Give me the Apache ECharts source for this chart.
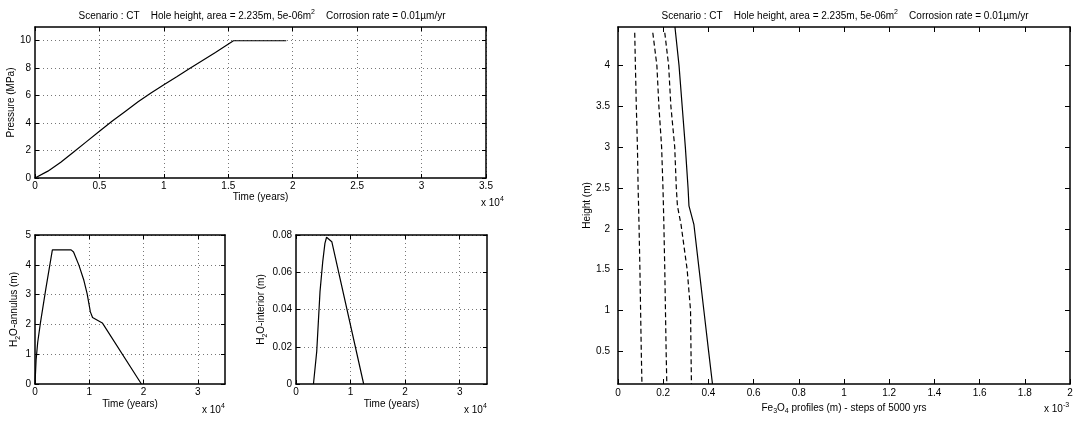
<!DOCTYPE html>
<html>
<head>
<meta charset="utf-8">
<script src="https://cdn.jsdelivr.net/npm/echarts@6/dist/echarts.min.js"></script>
<style>html,body{margin:0;padding:0;background:#fff}#c{width:1076px;height:421px}</style>
</head>
<body>
<div id="c"></div>
<script>
// ---------- data ----------
const pressureYears = [0, 1000, 2000, 3000, 4000, 5000, 6000, 7000, 8000, 9000, 10000, 11000, 12000, 13000, 14000, 15400, 19500];
const pressureMPa   = [0, 0.5, 1.15, 1.9, 2.65, 3.4, 4.15, 4.85, 5.55, 6.2, 6.8, 7.38, 7.97, 8.56, 9.15, 10, 10];

const annulusYears = [0, 200, 500, 1000, 2000, 3200, 6650, 7100, 8100, 9000, 9600, 10200, 10600, 12400, 19600];
const annulusLevel = [0, 0.8, 1.4, 2.05, 3.2, 4.5, 4.5, 4.43, 3.98, 3.48, 3.03, 2.42, 2.23, 2.05, 0];

const interiorYears = [3200, 3800, 4400, 4900, 5300, 5600, 5950, 6560, 12400];
const interiorLevel = [0, 0.0175, 0.0496, 0.0657, 0.0755, 0.0788, 0.0796, 0.0764, 0];

const dashedHeight = [4.40, 4.0, 3.5, 3.0, 2.5, 2.28, 2.05, 1.5, 1.0, 0.5, 0.1];
const solidHeight  = [4.47, 4.0, 3.5, 3.0, 2.5, 2.28, 2.05, 1.5, 1.0, 0.5, 0.1];
const oxide5000  = [0.000074, 0.000077, 0.000081, 0.000086, 0.000089, 0.000091, 0.000093, 0.000097, 0.000100, 0.000103, 0.000106];
const oxide10000 = [0.000154, 0.000172, 0.000181, 0.000193, 0.000199, 0.000201, 0.000203, 0.000207, 0.000210, 0.000213, 0.000216];
const oxide15000 = [0.000207, 0.000224, 0.000234, 0.000251, 0.000258, 0.000263, 0.000279, 0.000306, 0.000321, 0.000323, 0.000325];
const oxide20000 = [0.000252, 0.000270, 0.000284, 0.000298, 0.000310, 0.000314, 0.000336, 0.000359, 0.000380, 0.000401, 0.000418];

const pressureTimeTicks = [0, 5000, 10000, 15000, 20000, 25000, 30000, 35000];
const pressureTicks = [0, 2, 4, 6, 8, 10];
const waterTimeTicks = [0, 10000, 20000, 30000];
const annulusTicks = [0, 1, 2, 3, 4, 5];
const interiorTicks = [0, 0.02, 0.04, 0.06, 0.08];
const oxideTicks = [0, 0.0002, 0.0004, 0.0006, 0.0008, 0.001, 0.0012, 0.0014, 0.0016, 0.0018, 0.002];
const heightTicks = [0.5, 1, 1.5, 2, 2.5, 3, 3.5, 4];

const titleText = 'Scenario : CT    Hole height, area = 2.235m, 5e-06m{sup|2}    Corrosion rate = 0.01\u00b5m/yr';

// ---------- styling helpers ----------
const FONT = '"Liberation Sans", Arial, Helvetica, sans-serif';
const RICH = {
  sup: {fontSize: 7, fontFamily: FONT, fill: '#000', color: '#000', padding: [0, 0, 8, 0]},
  sub: {fontSize: 7, fontFamily: FONT, fill: '#000', color: '#000', padding: [7, 0, 0, 0]}
};
const fmtYears = v => String(+(v / 1e4).toFixed(2));
const fmtPlain = v => String(+v.toFixed(3));
const fmtMilli = v => String(+(v * 1e3).toFixed(2));

function axisPair(dim, gridIndex, o) {
  const line = {show: true, onZero: false, lineStyle: {color: '#000', width: 1.5}};
  const tick = {show: true, inside: true, length: o.tickLen, customValues: o.ticks, lineStyle: {color: '#000', width: 1}};
  const primary = {
    type: 'value', gridIndex, min: o.min, max: o.max,
    position: dim === 'x' ? 'bottom' : 'left',
    axisLine: line, axisTick: tick,
    axisLabel: {show: true, customValues: o.ticks, formatter: o.fmt, margin: o.margin,
                color: '#000', fontSize: 10, fontFamily: FONT},
    splitLine: o.grid ? {show: true, showMinLine: false, lineStyle: {color: '#777', width: 1, type: [1, 3]}} : {show: false},
    name: o.name, nameLocation: 'middle', nameGap: o.nameGap, nameRotate: dim === 'y' ? 90 : 0,
    nameTextStyle: {color: '#000', fontSize: 10, fontFamily: FONT, rich: RICH},
    z: 2
  };
  if (o.interval !== undefined) primary.interval = o.interval;
  const secondary = {
    type: 'value', gridIndex, min: o.min, max: o.max,
    position: dim === 'x' ? 'top' : 'right',
    axisLine: line, axisTick: tick, axisLabel: {show: false}, splitLine: {show: false}, z: 5
  };
  if (o.interval !== undefined) secondary.interval = o.interval;
  return [primary, secondary];
}

const zip = (a, b) => a.map((v, i) => [v, b[i]]);
function lineSeries(xi, x, y, dashed) {
  return {
    type: 'line', xAxisIndex: xi, yAxisIndex: xi, data: zip(x, y),
    showSymbol: false, symbol: 'none', silent: true, animation: false, z: 3,
    lineStyle: {color: '#000', width: 1.2, type: dashed ? [5, 3] : 'solid'}
  };
}

const xAxes = [].concat(
  axisPair('x', 0, {min: 0, max: 35000, interval: 5000, ticks: pressureTimeTicks, fmt: fmtYears, tickLen: 4, margin: 3, grid: true, name: 'Time (years)', nameGap: 14}),
  axisPair('x', 1, {min: 0, max: 35000, interval: 10000, ticks: waterTimeTicks, fmt: fmtYears, tickLen: 4, margin: 3, grid: true, name: 'Time (years)', nameGap: 15}),
  axisPair('x', 2, {min: 0, max: 35000, interval: 10000, ticks: waterTimeTicks, fmt: fmtYears, tickLen: 4, margin: 3, grid: true, name: 'Time (years)', nameGap: 15}),
  axisPair('x', 3, {min: 0, max: 0.002, interval: 0.0002, ticks: oxideTicks, fmt: fmtMilli, tickLen: 5, margin: 4, grid: false, name: 'Fe{sub|3}O{sub|4} profiles (m) - steps of 5000 yrs', nameGap: 11})
);
const yAxes = [].concat(
  axisPair('y', 0, {min: 0, max: 11, interval: 2, ticks: pressureTicks, fmt: fmtPlain, tickLen: 4, margin: 4, grid: true, name: 'Pressure (MPa)', nameGap: 14}),
  axisPair('y', 1, {min: 0, max: 5, interval: 1, ticks: annulusTicks, fmt: fmtPlain, tickLen: 4, margin: 4, grid: true, name: 'H{sub|2}O-annulus (m)', nameGap: 9}),
  axisPair('y', 2, {min: 0, max: 0.08, interval: 0.02, ticks: interiorTicks, fmt: fmtPlain, tickLen: 4, margin: 4, grid: true, name: 'H{sub|2}O-interior (m)', nameGap: 17}),
  axisPair('y', 3, {min: 0.1, max: 4.47, ticks: heightTicks, fmt: fmtPlain, tickLen: 5, margin: 8, grid: false, name: 'Height (m)', nameGap: 15})
);

const chart = echarts.init(document.getElementById('c'), null, {renderer: 'canvas'});
chart.setOption({
  animation: false,
  backgroundColor: '#fff',
  grid: [
    {left: 35, top: 27, width: 451, height: 151, containLabel: false},
    {left: 35, top: 235, width: 190, height: 149, containLabel: false},
    {left: 296, top: 235, width: 191, height: 149, containLabel: false},
    {left: 618, top: 27, width: 452, height: 357, containLabel: false}
  ],
  xAxis: xAxes,
  yAxis: yAxes,
  graphic: [
    {type: 'text', x: 262, y: 16, silent: true,
     style: {text: titleText, rich: RICH, fontSize: 10, fontFamily: FONT, fill: '#000', align: 'center', verticalAlign: 'middle'}},
    {type: 'text', x: 845, y: 16, silent: true,
     style: {text: titleText, rich: RICH, fontSize: 10, fontFamily: FONT, fill: '#000', align: 'center', verticalAlign: 'middle'}},
    {type: 'text', x: 481, y: 203, silent: true,
     style: {text: 'x 10{sup|4}', rich: RICH, fontSize: 10, fontFamily: FONT, fill: '#000', align: 'left', verticalAlign: 'middle'}},
    {type: 'text', x: 202, y: 410, silent: true,
     style: {text: 'x 10{sup|4}', rich: RICH, fontSize: 10, fontFamily: FONT, fill: '#000', align: 'left', verticalAlign: 'middle'}},
    {type: 'text', x: 464, y: 410, silent: true,
     style: {text: 'x 10{sup|4}', rich: RICH, fontSize: 10, fontFamily: FONT, fill: '#000', align: 'left', verticalAlign: 'middle'}},
    {type: 'text', x: 1044, y: 409, silent: true,
     style: {text: 'x 10{sup|-3}', rich: RICH, fontSize: 10, fontFamily: FONT, fill: '#000', align: 'left', verticalAlign: 'middle'}}
  ],
  series: [
    lineSeries(0, pressureYears, pressureMPa, false),
    lineSeries(2, annulusYears, annulusLevel, false),
    lineSeries(4, interiorYears, interiorLevel, false),
    lineSeries(6, oxide5000, dashedHeight, true),
    lineSeries(6, oxide10000, dashedHeight, true),
    lineSeries(6, oxide15000, dashedHeight, true),
    lineSeries(6, oxide20000, solidHeight, false)
  ]
});
</script>
</body>
</html>
